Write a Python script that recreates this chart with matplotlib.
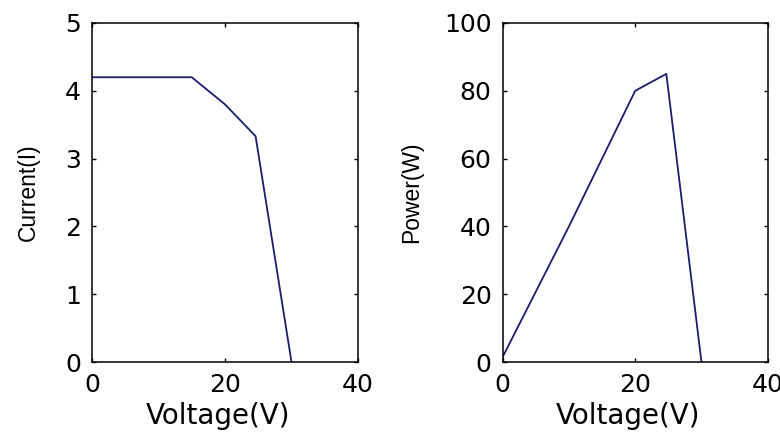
import matplotlib
matplotlib.use("Agg")
import matplotlib.pyplot as plt

# Data
voltage_iv = [0, 15, 20, 24.6, 30]
current = [4.2, 4.2, 3.8, 3.33, 0]

voltage_pv = [0, 10, 20, 24.7, 30]
power = [1.5, 40, 80, 85, 0]

x_ticks = [0, 20, 40]
iv_yticks = [0, 1, 2, 3, 4, 5]
pv_yticks = [0, 20, 40, 60, 80, 100]

line_color = "#1c1c6a"

fig = plt.figure(figsize=(7.8, 4.32), dpi=100)
fig.patch.set_facecolor("white")

ax1 = fig.add_axes([92 / 780, 70 / 432, 266 / 780, 339 / 432])
ax2 = fig.add_axes([502.7 / 780, 70 / 432, 265 / 780, 339 / 432])


def style(ax, yticks, ylabel, ylab_x):
    ax.set_xlim(0, 40)
    ax.set_ylim(yticks[0], yticks[-1])
    ax.set_xticks(x_ticks)
    ax.set_yticks(yticks)
    ax.tick_params(direction="in", length=3, width=1, top=True, right=True,
                   labelsize=18, pad=8, colors="black")
    for lab in ax.get_xticklabels() + ax.get_yticklabels():
        lab.set_fontfamily("DejaVu Sans")
    for sp in ax.spines.values():
        sp.set_linewidth(1.1)
        sp.set_color("black")
    ax.set_xlabel("Voltage(V)", fontsize=20, family="DejaVu Sans")
    ax.xaxis.set_label_coords(0.474, -0.118)
    ax.set_ylabel(ylabel, fontsize=16.5, family=["Liberation Sans", "DejaVu Sans"])
    ax.yaxis.set_label_coords(ylab_x, 0.5)


ax1.plot(voltage_iv, current, color=line_color, linewidth=1.3)
style(ax1, iv_yticks, "Current(I)", -0.197)

ax2.plot(voltage_pv, power, color=line_color, linewidth=1.3)
style(ax2, pv_yticks, "Power(W)", -0.30)

fig.savefig("out.png", dpi=100)
